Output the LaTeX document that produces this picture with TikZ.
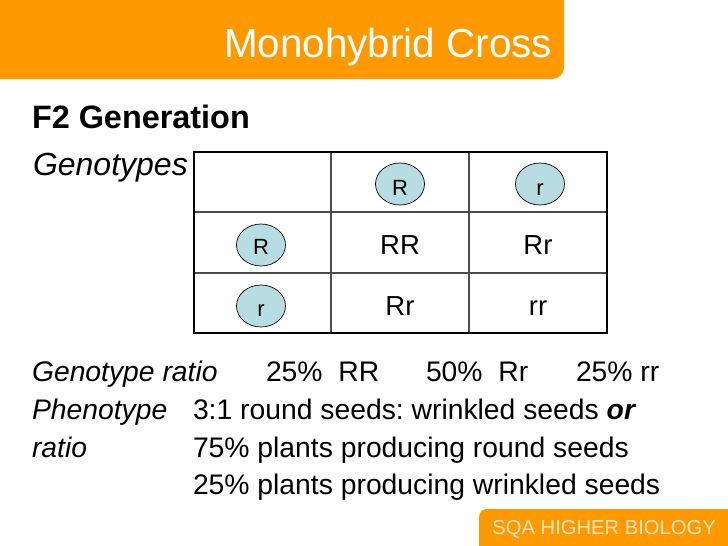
\documentclass[tikz,border=0pt]{standalone}
\usepackage{fontspec}
\setmainfont{Liberation Sans}
\usetikzlibrary{shapes.geometric}
\frenchspacing
\definecolor{orangeb}{HTML}{FF9900}
\definecolor{cellblue}{HTML}{B7DDE2}
\definecolor{foott}{HTML}{FFE6BE}
\newcommand{\fs}[1]{\fontsize{#1}{#1}\selectfont}
\tikzset{
  x=1pt,y=-1pt,
  txt/.style={anchor=base west,inner sep=0pt,outer sep=0pt,text=black,font=\fs{28.3}},
  itxt/.style={txt,font=\fs{28.3}\itshape},
  cell/.style={anchor=base,inner sep=0pt,text=black,font=\fs{27.5}},
  allele/.style={ellipse,draw=black,line width=0.7pt,fill=cellblue,minimum width=49pt,minimum height=42pt,inner sep=0pt},
  alleletxt/.style={anchor=base,inner sep=0pt,text=black,font=\fs{22}},
  outer/.style={line width=1.7pt,black},
  inner/.style={line width=1.2pt,black!70}
}
\begin{document}
\begin{tikzpicture}
\useasboundingbox (0,0) rectangle (728,546);
\fill[orangeb,rounded corners=12pt] (-20,-20) rectangle (564,79);
\fill[orangeb] (-20,-20) rectangle (540,79);
\fill[orangeb] (-20,-20) rectangle (564,40);
\node[anchor=base west,inner sep=0pt,text=white,font=\fs{40.4}] (title) at (224,57) {Monohybrid Cross};
\node[txt,font=\fs{32.4}\bfseries] (gen) at (32,128) {F2 Generation};
\node[itxt,font=\fs{32}\itshape] (gt) at (33,175) {Genotypes};
% grid
\draw[inner] (331,152) -- (331,333) (469,152) -- (469,333) (194,212) -- (607,212) (194,273) -- (607,273);
\draw[outer] (194,152) rectangle (607,333);
% alleles
\node[allele] (c1) at (400,184) {};
\node[allele] (c2) at (540,184) {};
\node[allele] (c3) at (261,245) {};
\node[allele] (c4) at (261,306) {};
\node[alleletxt] (c1t) at (400,195) {R};
\node[alleletxt] (c2t) at (540,195) {r};
\node[alleletxt] (c3t) at (261,254) {R};
\node[alleletxt] (c4t) at (261,316) {r};
\node[cell] (rr1) at (400,254) {RR};
\node[cell] (rr2) at (538,254) {Rr};
\node[cell] (rr3) at (400,315) {Rr};
\node[cell] (rr4) at (538,315) {rr};
% bottom text
\node[itxt] (l1) at (32,381) {Genotype ratio};
\node[txt] (a1) at (266,381) {25\%\ \ RR};
\node[txt] (a2) at (426,381) {50\%\ \ Rr};
\node[txt] (a3) at (576,381) {25\% rr};
\node[itxt] (l2) at (32,419) {Phenotype};
\node[txt] (b1) at (193,419) {3:1 round seeds: wrinkled seeds \textbf{\textit{or}}};
\node[itxt] (l3) at (32,457) {ratio};
\node[txt] (b2) at (193,457) {75\% plants producing round seeds};
\node[txt] (b3) at (193,494) {25\% plants producing wrinkled seeds};
% footer
\fill[orangeb,rounded corners=8pt] (479,509) rectangle (760,570);
\fill[orangeb] (479,530) rectangle (760,570);
\node[anchor=base east,inner sep=0pt,text=foott,font=\fs{20.2}] (foot) at (716,534) {SQA HIGHER BIOLOGY};
\end{tikzpicture}
\end{document}
